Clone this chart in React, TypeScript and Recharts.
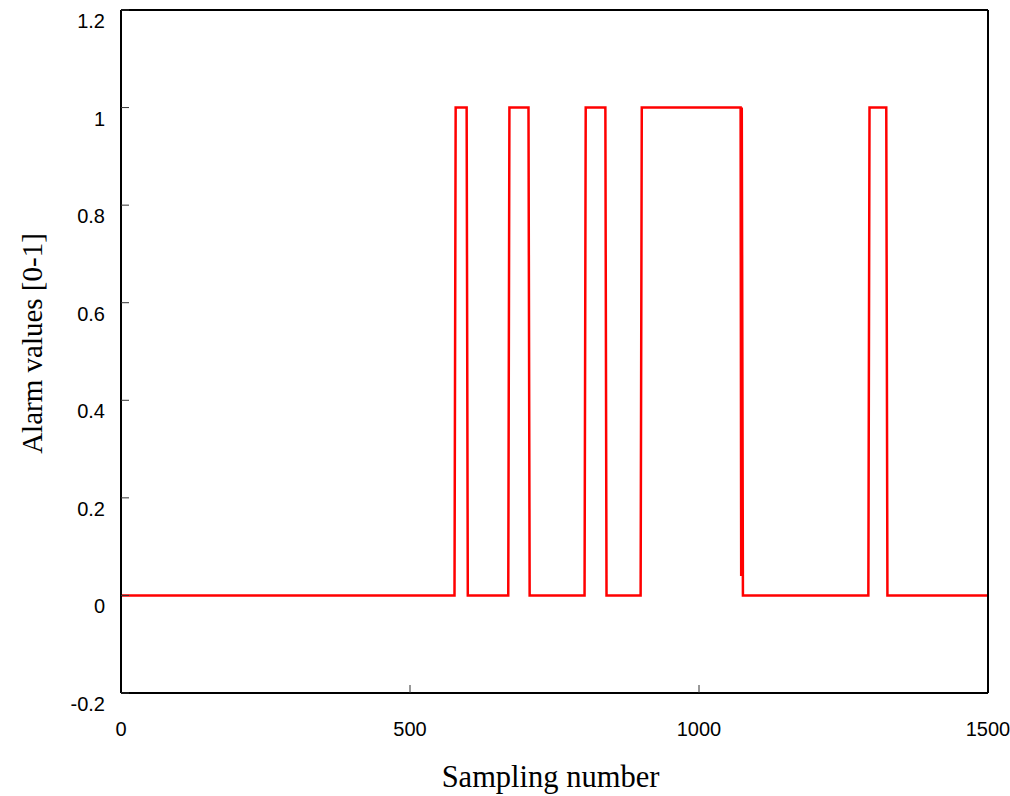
import { LineChart, Line, XAxis, YAxis } from 'recharts';

// sample index where the alarm signal changes, and its value there
const sampleIdx = [0, 577, 579, 598, 600, 670, 672, 705, 707, 802, 804, 838, 840, 899, 901, 1072, 1073, 1074, 1076, 1293, 1295, 1324, 1326, 1500];
const alarmVals = [0, 0, 1, 1, 0, 0, 1, 1, 0, 0, 1, 1, 0, 0, 1, 1, 0.04, 1, 0, 0, 1, 1, 0, 0];

const xTicks = [0, 500, 1000, 1500];
const yTicks = [-0.2, 0, 0.2, 0.4, 0.6, 0.8, 1, 1.2];

const data = sampleIdx.map((s, i) => ({ s, v: alarmVals[i] }));

const fmtY = (v: number) => String(Math.round(v * 10) / 10);

const frame = { stroke: '#000', strokeWidth: 2 };
const tickLn = { stroke: '#333', strokeWidth: 1 };
const sans = "'Liberation Sans', Arial, sans-serif";
const serif = "'Liberation Serif', 'Times New Roman', serif";

const XTick = ({ x, y, payload }: any) => (
  <text x={x} y={y + 36} textAnchor="middle" dominantBaseline="central" fontFamily={sans} fontSize={20} fill="#000">
    {payload.value}
  </text>
);

const YTick = ({ x, y, payload }: any) => (
  <text x={x} y={y + 11} textAnchor="end" dominantBaseline="central" fontFamily={sans} fontSize={20} fill="#000">
    {fmtY(payload.value)}
  </text>
);

export default function App() {
  return (
    <div style={{ position: 'absolute', left: 0, top: 0, width: 1010, height: 796, background: '#fff' }}>
      <LineChart width={1010} height={796} data={data} margin={{ top: 9, right: 21, left: 0, bottom: 8 }}>
        <XAxis
          dataKey="s"
          type="number"
          domain={[0, 1500]}
          ticks={xTicks}
          allowDataOverflow
          height={95}
          axisLine={frame}
          tickLine={tickLn}
          tickSize={-8}
          tickMargin={8}
          tick={<XTick />}
          label={{
            content: ({ viewBox }: any) => (
              <text x={viewBox.x + viewBox.width / 2 - 4} y={viewBox.y + 84} textAnchor="middle" dominantBaseline="central"
                fontFamily={serif} fontSize={30.5} fill="#000">
                Sampling number
              </text>
            ),
          }}
        />
        <XAxis
          xAxisId="top"
          orientation="top"
          dataKey="s"
          type="number"
          domain={[0, 1500]}
          ticks={xTicks}
          allowDataOverflow
          height={1}
          axisLine={frame}
          tickLine={tickLn}
          tickSize={-8}
          tick={false}
        />
        <YAxis
          type="number"
          domain={[-0.2, 1.2]}
          ticks={yTicks}
          allowDataOverflow
          width={121}
          axisLine={frame}
          tickLine={tickLn}
          tickSize={-8}
          tickMargin={24}
          tick={<YTick />}
          label={{
            content: ({ viewBox }: any) => {
              const cx = viewBox.x + 32;
              const cy = viewBox.y + viewBox.height / 2 - 8;
              return (
                <text x={cx} y={cy} transform={`rotate(-90, ${cx}, ${cy})`} textAnchor="middle" dominantBaseline="central"
                  fontFamily={serif} fontSize={29} fill="#000">
                  Alarm values [0-1]
                </text>
              );
            },
          }}
        />
        <YAxis
          yAxisId="right"
          orientation="right"
          type="number"
          domain={[-0.2, 1.2]}
          ticks={yTicks}
          allowDataOverflow
          width={1}
          axisLine={frame}
          tickLine={tickLn}
          tickSize={-8}
          tick={false}
        />
        <Line
          type="linear"
          dataKey="v"
          stroke="#ff0000"
          strokeWidth={2.5}
          dot={false}
          isAnimationActive={false}
        />
      </LineChart>
    </div>
  );
}
